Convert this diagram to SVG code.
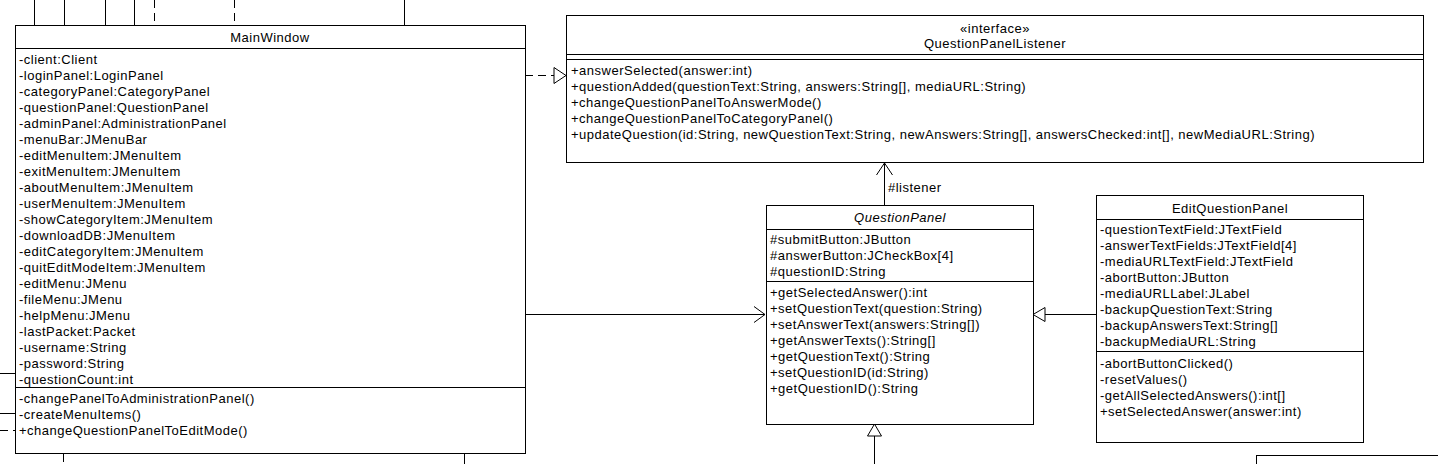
<svg xmlns="http://www.w3.org/2000/svg" width="1438" height="464" viewBox="0 0 1438 464">
<style>
text{font-family:"Liberation Sans",Arial,sans-serif;font-size:13px;letter-spacing:0.5px;fill:#000}
.c{text-anchor:middle}
.i{font-style:italic}
.box{fill:#fff;stroke:#000;stroke-width:1}
.ln{stroke:#000;stroke-width:1;fill:none}
.d{stroke-dasharray:8,5}
</style>
<g id="connectors">
<line class="ln" x1="34.5" y1="0" x2="34.5" y2="25"/>
<line class="ln" x1="64.5" y1="0" x2="64.5" y2="25"/>
<line class="ln" x1="105.5" y1="0" x2="105.5" y2="25"/>
<line class="ln" x1="134.5" y1="0" x2="134.5" y2="25"/>
<line class="ln d" x1="154.5" y1="0" x2="154.5" y2="25"/>
<line class="ln d" x1="234.5" y1="0" x2="234.5" y2="25"/>
<line class="ln" x1="404.5" y1="0" x2="404.5" y2="25"/>
<line class="ln" x1="0" y1="373.5" x2="15" y2="373.5"/>
<line class="ln" x1="0" y1="413.5" x2="15" y2="413.5"/>
<line class="ln d" x1="0" y1="430.5" x2="15" y2="430.5"/>
<line class="ln d" x1="63.5" y1="454" x2="63.5" y2="464"/>
<line class="ln" x1="464.5" y1="454" x2="464.5" y2="464"/>
<line class="ln d" x1="525" y1="75.5" x2="554" y2="75.5"/>
<polygon class="box" points="554,67.5 566,75.5 554,83.5"/>
<line class="ln" x1="525" y1="314.5" x2="765" y2="314.5"/>
<polyline class="ln" points="754,306.5 765,314.5 754,322.5"/>
<line class="ln" x1="884.5" y1="205" x2="884.5" y2="163"/>
<polyline class="ln" points="876.5,175 884.5,163 892.5,175"/>
<text x="888" y="192">#listener</text>
<line class="ln" x1="1045" y1="314.5" x2="1096" y2="314.5"/>
<polygon class="box" points="1045,307.5 1033,314.5 1045,321.5"/>
<line class="ln" x1="874.5" y1="436" x2="874.5" y2="464"/>
<polygon class="box" points="867.5,436 874.5,424 881.5,436"/>
</g>
<g id="MainWindow">
<rect class="box" x="15.5" y="25.5" width="510" height="428"/>
<line class="ln" x1="15" y1="48.5" x2="525" y2="48.5"/>
<line class="ln" x1="15" y1="387.5" x2="525" y2="387.5"/>
<text class="c" x="270" y="42">MainWindow</text>
<text x="19" y="64">-client:Client</text>
<text x="19" y="80">-loginPanel:LoginPanel</text>
<text x="19" y="96">-categoryPanel:CategoryPanel</text>
<text x="19" y="112">-questionPanel:QuestionPanel</text>
<text x="19" y="128">-adminPanel:AdministrationPanel</text>
<text x="19" y="144">-menuBar:JMenuBar</text>
<text x="19" y="160">-editMenuItem:JMenuItem</text>
<text x="19" y="176">-exitMenuItem:JMenuItem</text>
<text x="19" y="192">-aboutMenuItem:JMenuItem</text>
<text x="19" y="208">-userMenuItem:JMenuItem</text>
<text x="19" y="224">-showCategoryItem:JMenuItem</text>
<text x="19" y="240">-downloadDB:JMenuItem</text>
<text x="19" y="256">-editCategoryItem:JMenuItem</text>
<text x="19" y="272">-quitEditModeItem:JMenuItem</text>
<text x="19" y="288">-editMenu:JMenu</text>
<text x="19" y="304">-fileMenu:JMenu</text>
<text x="19" y="320">-helpMenu:JMenu</text>
<text x="19" y="336">-lastPacket:Packet</text>
<text x="19" y="352">-username:String</text>
<text x="19" y="368">-password:String</text>
<text x="19" y="384">-questionCount:int</text>
<text x="19" y="403">-changePanelToAdministrationPanel()</text>
<text x="19" y="419">-createMenuItems()</text>
<text x="19" y="435">+changeQuestionPanelToEditMode()</text>
</g>
<g id="QuestionPanelListener">
<rect class="box" x="566.5" y="15.5" width="857" height="147"/>
<line class="ln" x1="566" y1="54.5" x2="1423" y2="54.5"/>
<line class="ln" x1="566" y1="59.5" x2="1423" y2="59.5"/>
<text class="c" x="995" y="33">«interface»</text>
<text class="c" x="995" y="48">QuestionPanelListener</text>
<text x="571" y="75">+answerSelected(answer:int)</text>
<text x="571" y="91">+questionAdded(questionText:String, answers:String[], mediaURL:String)</text>
<text x="571" y="107">+changeQuestionPanelToAnswerMode()</text>
<text x="571" y="123">+changeQuestionPanelToCategoryPanel()</text>
<text x="571" y="139">+updateQuestion(id:String, newQuestionText:String, newAnswers:String[], answersChecked:int[], newMediaURL:String)</text>
</g>
<g id="QuestionPanel">
<rect class="box" x="766.5" y="205.5" width="267" height="219"/>
<line class="ln" x1="766" y1="229.5" x2="1033" y2="229.5"/>
<line class="ln" x1="766" y1="281.5" x2="1033" y2="281.5"/>
<text class="c i" x="900" y="222">QuestionPanel</text>
<text x="770" y="244">#submitButton:JButton</text>
<text x="770" y="260">#answerButton:JCheckBox[4]</text>
<text x="770" y="276">#questionID:String</text>
<text x="770" y="297">+getSelectedAnswer():int</text>
<text x="770" y="313">+setQuestionText(question:String)</text>
<text x="770" y="329">+setAnswerText(answers:String[])</text>
<text x="770" y="345">+getAnswerTexts():String[]</text>
<text x="770" y="361">+getQuestionText():String</text>
<text x="770" y="377">+setQuestionID(id:String)</text>
<text x="770" y="393">+getQuestionID():String</text>
</g>
<g id="EditQuestionPanel">
<rect class="box" x="1096.5" y="195.5" width="267" height="247"/>
<line class="ln" x1="1096" y1="219.5" x2="1363" y2="219.5"/>
<line class="ln" x1="1096" y1="351.5" x2="1363" y2="351.5"/>
<text class="c" x="1230" y="213">EditQuestionPanel</text>
<text x="1100" y="234">-questionTextField:JTextField</text>
<text x="1100" y="250">-answerTextFields:JTextField[4]</text>
<text x="1100" y="266">-mediaURLTextField:JTextField</text>
<text x="1100" y="282">-abortButton:JButton</text>
<text x="1100" y="298">-mediaURLLabel:JLabel</text>
<text x="1100" y="314">-backupQuestionText:String</text>
<text x="1100" y="330">-backupAnswersText:String[]</text>
<text x="1100" y="346">-backupMediaURL:String</text>
<text x="1100" y="368">-abortButtonClicked()</text>
<text x="1100" y="384">-resetValues()</text>
<text x="1100" y="400">-getAllSelectedAnswers():int[]</text>
<text x="1100" y="416">+setSelectedAnswer(answer:int)</text>
</g>
<g id="PartialPanel">
<rect class="box" x="1256.5" y="455.5" width="200" height="30"/>
</g>
</svg>
